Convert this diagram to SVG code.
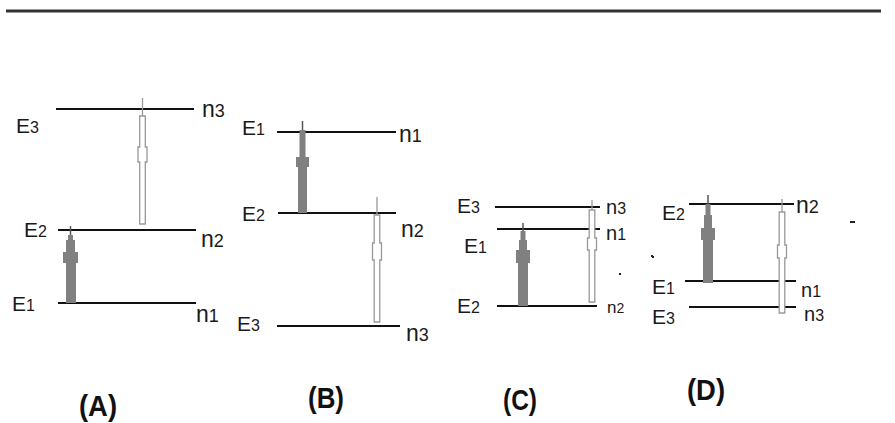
<svg xmlns="http://www.w3.org/2000/svg" width="895" height="423" viewBox="0 0 895 423">
<style>
.lvl{stroke:#111;stroke-width:2;fill:none}
.lab{font-family:"Liberation Sans",Arial,sans-serif;font-size:21px;fill:#1a1a1a}
.sub{font-size:16px}
.nl{font-family:"Liberation Sans",Arial,sans-serif;font-size:23px;fill:#1a1a1a}
.nsub{font-size:18px}
.nls{font-family:"Liberation Sans",Arial,sans-serif;font-size:20px;fill:#1a1a1a}
.nssub{font-size:16px}
.abs{fill:#808080;stroke:none}
.absl{stroke:#555;stroke-width:1.5}
.em{fill:#fff;stroke:#999;stroke-width:1.3}
.eml{stroke:#999;stroke-width:1.3}
.cap{font-family:"Liberation Sans",Arial,sans-serif;font-weight:bold;font-size:30px;fill:#111}
</style>
<line x1="6" y1="11" x2="881" y2="11" stroke="#333" stroke-width="3"/>

<g id="diagramA">
<line class="lvl" x1="56" y1="109" x2="194" y2="109"/>
<line class="lvl" x1="58" y1="230" x2="196" y2="230"/>
<line class="lvl" x1="58" y1="303" x2="196" y2="303"/>
<text class="lab" x="16" y="133">E<tspan class="sub">3</tspan></text>
<text class="nl" x="202" y="117">n<tspan class="nsub">3</tspan></text>
<text class="lab" x="24" y="237">E<tspan class="sub">2</tspan></text>
<text class="nl" x="201" y="247">n<tspan class="nsub">2</tspan></text>
<text class="lab" x="12" y="311">E<tspan class="sub">1</tspan></text>
<text class="nl" x="196" y="322">n<tspan class="nsub">1</tspan></text>
</g>

<g id="diagramB">
<line class="lvl" x1="277" y1="132" x2="396" y2="132"/>
<line class="lvl" x1="278" y1="213" x2="396" y2="213"/>
<line class="lvl" x1="277" y1="326" x2="400" y2="326"/>
<text class="lab" x="242" y="135">E<tspan class="sub">1</tspan></text>
<text class="nl" x="399" y="142">n<tspan class="nsub">1</tspan></text>
<text class="lab" x="242" y="221">E<tspan class="sub">2</tspan></text>
<text class="nl" x="401" y="237">n<tspan class="nsub">2</tspan></text>
<text class="lab" x="237" y="331">E<tspan class="sub">3</tspan></text>
<text class="nl" x="406" y="341">n<tspan class="nsub">3</tspan></text>
</g>

<g id="diagramC">
<line class="lvl" x1="495" y1="207" x2="600" y2="207"/>
<line class="lvl" x1="497" y1="229" x2="600" y2="229"/>
<line class="lvl" x1="497" y1="306" x2="597" y2="306"/>
<text class="lab" x="457" y="213">E<tspan class="sub">3</tspan></text>
<text class="nls" x="606" y="214">n<tspan class="nssub">3</tspan></text>
<text class="lab" x="464" y="253">E<tspan class="sub">1</tspan></text>
<text class="nls" x="606" y="240">n<tspan class="nssub">1</tspan></text>
<text class="lab" x="457" y="313">E<tspan class="sub">2</tspan></text>
<text class="nl" x="607" y="313" style="font-size:17px">n<tspan style="font-size:14px">2</tspan></text>
<rect x="651" y="255" width="2" height="2" fill="#222"/>
<rect x="619" y="273" width="2" height="2" fill="#222"/>
</g>

<g id="diagramD">
<line class="lvl" x1="689" y1="204" x2="794" y2="204"/>
<line class="lvl" x1="685" y1="281" x2="796" y2="281"/>
<line class="lvl" x1="689" y1="307" x2="796" y2="307"/>
<text class="lab" x="662" y="220">E<tspan class="sub">2</tspan></text>
<text class="nl" x="796" y="213">n<tspan class="nsub">2</tspan></text>
<text class="lab" x="652" y="294">E<tspan class="sub">1</tspan></text>
<text class="nls" x="801" y="297">n<tspan class="nssub">1</tspan></text>
<text class="nls" x="804" y="321">n<tspan class="nssub">3</tspan></text>
<text class="lab" x="652" y="324">E<tspan class="sub">3</tspan></text>
<rect x="652" y="256" width="2" height="2" fill="#222"/>
<rect x="850" y="221" width="5" height="2" fill="#222"/>
</g>

<g id="connectors">
<line class="absl" x1="70.5" y1="226" x2="70.5" y2="236"/>
<path class="abs" d="M68,235 H73 V240 H75 V252 H78 V263 H76 V303 H66 V263 H63 V252 H66 V240 H68 Z"/>
<line class="eml" x1="142.5" y1="98" x2="142.5" y2="116"/>
<path class="em" d="M139.7,116 H145.3 V147 H147 V162 H145.3 V224 H139.7 V162 H138 V147 H139.7 Z"/>
<line class="absl" x1="302.5" y1="121" x2="302.5" y2="131"/>
<path class="abs" d="M299.5,130 H305.5 V157 H309 V167 H307 V213 H298 V167 H296 V157 H299.5 Z"/>
<line class="eml" x1="377" y1="197" x2="377" y2="215"/>
<path class="em" d="M374.2,215 H379.8 V243 H381.5 V260 H379.8 V322 H374.2 V260 H372.5 V243 H374.2 Z"/>
<line class="absl" x1="523" y1="223" x2="523" y2="232"/>
<path class="abs" d="M520.5,231 H525.5 V240 H527 V250 H530 V263 H528 V306 H518 V263 H516 V250 H519 V240 H520.5 Z"/>
<line class="eml" x1="592" y1="200" x2="592" y2="210"/>
<path class="em" d="M589.2,210 H594.8 V238 H596.5 V250 H594.8 V302 H589.2 V250 H587.5 V238 H589.2 Z"/>
<line class="absl" x1="708" y1="195" x2="708" y2="205"/>
<path class="abs" d="M705.5,204 H710.5 V215 H712 V228 H715 V240 H713 V283 H703 V240 H701 V228 H704 V215 H705.5 Z"/>
<line class="eml" x1="782" y1="199" x2="782" y2="212"/>
<path class="em" d="M779.2,212 H784.8 V245 H786.5 V258 H784.8 V313 H779.2 V258 H777.5 V245 H779.2 Z"/>
</g>

<g id="captions">
<text class="cap" x="79" y="416" textLength="38" lengthAdjust="spacingAndGlyphs">(A)</text>
<text class="cap" x="308" y="408" textLength="36" lengthAdjust="spacingAndGlyphs">(B)</text>
<text class="cap" x="503" y="410" textLength="34" lengthAdjust="spacingAndGlyphs">(C)</text>
<text class="cap" x="687" y="400" textLength="38" lengthAdjust="spacingAndGlyphs">(D)</text>
</g>
</svg>
